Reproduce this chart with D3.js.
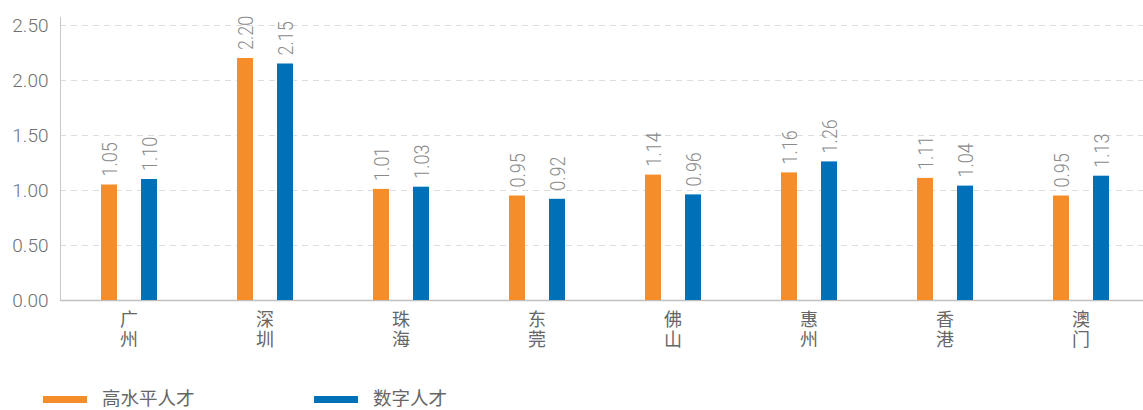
<!DOCTYPE html>
<html>
<head>
<meta charset="utf-8">
<script src="https://cdn.jsdelivr.net/npm/d3@7"></script>
<style>
  html, body { margin: 0; padding: 0; background: #fff; }
  svg { display: block; }
  text { font-family: Roboto, "Noto Sans CJK SC", sans-serif; }
</style>
</head>
<body>
<svg id="chart" width="1143" height="410"></svg>
<script>
// City names and the two index series
const cities = ["广州", "深圳", "珠海", "东莞", "佛山", "惠州", "香港", "澳门"];
const highLevelTalent = [1.05, 2.20, 1.01, 0.95, 1.14, 1.16, 1.11, 0.95];
const digitalTalent = [1.10, 2.15, 1.03, 0.92, 0.96, 1.26, 1.04, 1.13];
const yTicks = [0, 0.5, 1.0, 1.5, 2.0, 2.5];
const seriesNames = ["高水平人才", "数字人才"];
const seriesColors = ["#F58D2B", "#0071B9"];

const svg = d3.select("#chart");
const W = 1143;
const axisX = 60;
const plotBottom = 300, plotTop = 25;

const x = d3.scaleBand()
  .domain(d3.range(cities.length))
  .range([61, 1149]);

const y = d3.scaleLinear().domain([0, 2.5]).range([plotBottom, plotTop]);

// dashed horizontal grid
svg.append("g")
  .selectAll("line")
  .data(yTicks.filter(d => d > 0))
  .join("line")
  .attr("x1", axisX)
  .attr("x2", W)
  .attr("y1", d => Math.round(y(d)) + 0.5)
  .attr("y2", d => Math.round(y(d)) + 0.5)
  .attr("stroke", "#dcdcdc")
  .attr("stroke-width", 1)
  .attr("stroke-dasharray", "6,5");

// y axis
const yAxis = svg.append("g")
  .attr("transform", `translate(${axisX + 0.5},0)`)
  .call(d3.axisLeft(y).tickValues(yTicks).tickFormat(d3.format(".2f")).tickSize(0).tickPadding(12));
yAxis.select(".domain").attr("stroke", "#c8c8c8").attr("d", `M0,${plotTop - 8}V${plotBottom}`);
yAxis.selectAll("text")
  .attr("fill", "#707070")
  .style("font-size", "19px")
  .style("font-weight", "300");

// baseline
svg.append("line")
  .attr("x1", axisX).attr("x2", W)
  .attr("y1", plotBottom + 0.5).attr("y2", plotBottom + 0.5)
  .attr("stroke", "#c0c0c0").attr("stroke-width", 1.5);

const barW = 16, offset = 20;
const series = [highLevelTalent, digitalTalent];

series.forEach((vals, si) => {
  const g = svg.append("g");
  const cx = i => x(i) + x.bandwidth() / 2 + (si === 0 ? -offset : offset);
  g.selectAll("rect")
    .data(vals)
    .join("rect")
    .attr("x", (d, i) => cx(i) - barW / 2)
    .attr("width", barW)
    .attr("y", d => y(d))
    .attr("height", d => plotBottom - y(d))
    .attr("fill", seriesColors[si]);
  // rotated value labels above each bar
  g.selectAll("text")
    .data(vals)
    .join("text")
    .attr("transform", (d, i) => `translate(${cx(i) + 7.5},${y(d) - 8}) rotate(-90) scale(0.9,1)`)
    .attr("fill", "#8a8a8a")
    .style("font-size", "20px")
    .style("font-weight", "300")
    .text(d => d.toFixed(2));
});

// category labels, written top to bottom
svg.append("g")
  .selectAll("text")
  .data(cities)
  .join("text")
  .attr("x", (d, i) => x(i) + x.bandwidth() / 2)
  .attr("y", 310)
  .attr("writing-mode", "vertical-rl")
  .attr("fill", "#666")
  .style("font-size", "18px")
  .style("letter-spacing", "2.5px")
  .style("font-family", "'Noto Sans CJK SC', sans-serif")
  .text(d => d);

// legend
const legendX = [43, 314];
seriesNames.forEach((name, si) => {
  const lg = svg.append("g");
  lg.append("rect")
    .attr("x", legendX[si]).attr("y", 396)
    .attr("width", 44).attr("height", 7)
    .attr("fill", seriesColors[si]);
  lg.append("text")
    .attr("x", legendX[si] + 59).attr("y", 405)
    .attr("fill", "#666")
    .style("font-size", "18.5px")
    .style("font-family", "'Noto Sans CJK SC', sans-serif")
    .text(name);
});
</script>
</body>
</html>
